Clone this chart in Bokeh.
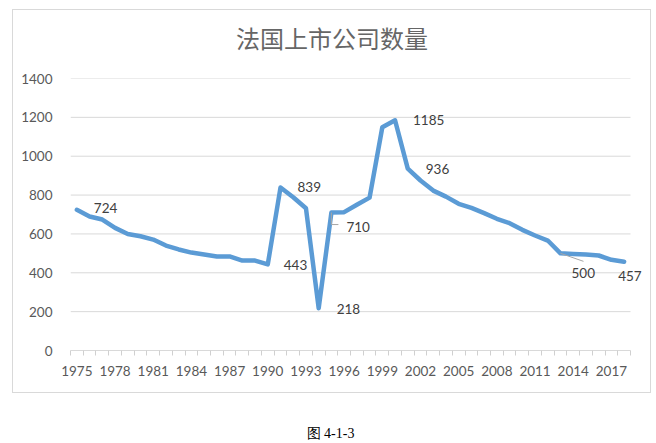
from bokeh.plotting import figure
from bokeh.layouts import column
from bokeh.models import (Range1d, FixedTicker, LabelSet, ColumnDataSource, InlineStyleSheet)
from bokeh.core.properties import value
from bokeh.embed import file_html
from bokeh.resources import INLINE

# ---- data ----
years = list(range(1975, 2019))
counts = [724, 690, 674, 631, 600, 588, 571, 540, 520, 504,
          494, 484, 484, 463, 463, 443, 839, 789, 732, 218,
          710, 712, 750, 787, 1149, 1185, 936, 875, 823, 792,
          755, 734, 707, 678, 655, 621, 592, 566, 500, 497,
          494, 489, 467, 457]
label_years = [1975, 1990, 1991, 1994, 1995, 2000, 2001, 2013, 2018]
tick_label_years = list(range(1975, 2018, 3))
y_ticks = [0, 200, 400, 600, 800, 1000, 1200, 1400]
title_text = "法国上市公司数量"
caption_text = "图 4-1-3"

# label placement (pixel offsets), style only
lab_dx = {1975: 17, 1990: 16, 1991: 17, 1994: 18, 1995: 15, 2000: 18, 2001: 18, 2013: 11, 2018: -6}
lab_dy = {1975: 2, 1990: -1, 1991: 0, 1994: -1, 1995: -14, 2000: 0, 2001: 0, 2013: -20, 2018: -14}

W = 656
H_TOP, H_MAIN, H_CAP = 60, 340, 43
FL, FR = 70, 630                     # category area (x)
FT, FB = 78 - H_TOP, 350 - H_TOP     # plot area (y) inside the main figure
FRAME_R = 650                        # drawing area extends right so end labels are not clipped
n = len(years)
cat_px = (FR - FL) / n

# ---- title strip (its frame is aligned with the main chart's frame: x in page pixels) ----
tfig = figure(width=W, height=H_TOP, output_backend="svg", toolbar_location=None,
              x_range=Range1d(FL, FRAME_R), y_range=Range1d(0, H_TOP), min_border=0,
              min_border_left=FL, min_border_right=W - FRAME_R,
              x_axis_location=None, y_axis_location=None)
tfig.grid.visible = False
tfig.outline_line_color = None
tfig.background_fill_color = "white"
tfig.border_fill_color = "white"
tfig.text(x=[331.5], y=[H_TOP - 37], text=[title_text],
          text_font=value("Noto Sans CJK SC"), text_font_size="24px",
          text_color="#666666", text_align="center", text_baseline="middle")

# ---- main chart ----
idx = list(range(n))
p = figure(width=W, height=H_MAIN, output_backend="svg", toolbar_location=None,
           x_range=Range1d(-0.5, n - 0.5 + (FRAME_R - FR) / cat_px), y_range=Range1d(0, 1400),
           min_border_left=FL, min_border_right=W - FRAME_R,
           min_border_top=FT, min_border_bottom=H_MAIN - FB)
p.outline_line_color = None
p.background_fill_color = "white"
p.border_fill_color = "white"

p.xgrid.grid_line_color = None
p.ygrid.grid_line_color = None
# horizontal gridlines across the category area only
gy = [t for t in y_ticks if t > 0]
p.segment(x0=[-0.5] * len(gy), x1=[n - 0.5] * len(gy), y0=gy, y1=gy,
          line_color="#D9D9D9", line_width=1)

# y axis
p.yaxis.ticker = FixedTicker(ticks=y_ticks)
p.yaxis.axis_line_color = None
p.yaxis.major_tick_line_color = None
p.yaxis.minor_tick_line_color = None
p.yaxis.major_label_standoff = 12
p.yaxis.major_label_text_font = "Lato"
p.yaxis.major_label_text_font_size = "13.5px"
p.yaxis.major_label_text_color = "#595959"

# x axis (labels at every 3rd category centre, tick marks at category boundaries)
lab_pos = [years.index(y) for y in tick_label_years]
bounds = [i - 0.5 for i in range(n + 1)]
p.xaxis.ticker = FixedTicker(ticks=lab_pos, minor_ticks=bounds)
p.xaxis.bounds = (-0.5, n - 0.5)
p.xaxis.major_label_overrides = {i: str(years[i]) for i in lab_pos}
p.xaxis.axis_line_color = "#D9D9D9"
p.xaxis.major_tick_line_color = None
p.xaxis.major_tick_out = 0
p.xaxis.major_tick_in = 0
p.xaxis.minor_tick_line_color = "#D0D0D0"
p.xaxis.minor_tick_out = 5
p.xaxis.minor_tick_in = 0
p.xaxis.major_label_standoff = 10
p.xaxis.major_label_text_font = "Lato"
p.xaxis.major_label_text_font_size = "13.5px"
p.xaxis.major_label_text_color = "#595959"

# line
p.line(idx, counts, line_color="#5B9BD5", line_width=4.5, line_join="round", line_cap="round")

# data labels
lx = [years.index(y) for y in label_years]
ly = [counts[i] for i in lx]
src = ColumnDataSource(dict(x=lx, y=ly, t=[str(v) for v in ly],
                            dx=[lab_dx[y] for y in label_years],
                            dy=[lab_dy[y] for y in label_years]))
p.add_layout(LabelSet(x="x", y="y", text="t", x_offset="dx", y_offset="dy", source=src,
                      text_font=value("Lato"), text_font_size=value("13.5px"),
                      text_color="#404040", text_align="left", text_baseline="middle"))

# leader lines (converted from pixel offsets to data units)
px_x = 1 / cat_px
px_y = 1400 / (FB - FT)
i95 = years.index(1995)
v95 = counts[i95]
p.line([i95, i95, i95 + 7 * px_x], [v95, v95 - 12 * px_y, v95 - 12 * px_y],
       line_color="#A6A6A6", line_width=1)
i13 = years.index(2013)
v13 = counts[i13]
p.line([i13, i13 + 23 * px_x], [v13, v13 - 8 * px_y], line_color="#A6A6A6", line_width=1)

# ---- caption strip ----
cap = figure(width=W, height=H_CAP, output_backend="svg", toolbar_location=None,
             x_range=Range1d(FL, FRAME_R), y_range=Range1d(0, H_CAP), min_border=0,
             min_border_left=FL, min_border_right=W - FRAME_R,
             x_axis_location=None, y_axis_location=None)
cap.grid.visible = False
cap.outline_line_color = None
cap.background_fill_color = "white"
cap.border_fill_color = "white"
cap.text(x=[330], y=[H_CAP - 33], text=[caption_text],
         text_font=value("Liberation Serif"), text_font_size="14px",
         text_color="#000000", text_align="center", text_baseline="middle")

layout = column(tfig, p, cap, spacing=0)
# chart area border (spans title strip and chart)
layout.stylesheets = [InlineStyleSheet(css=(
    ":host { position: relative; }"
    ":host::after { content: ''; position: absolute; left: 12px; top: 9px; "
    "width: 637px; height: 382px; border: 1px solid #D9D9D9; pointer-events: none; }"))]

open("out.html", "w").write(file_html(layout, INLINE))
